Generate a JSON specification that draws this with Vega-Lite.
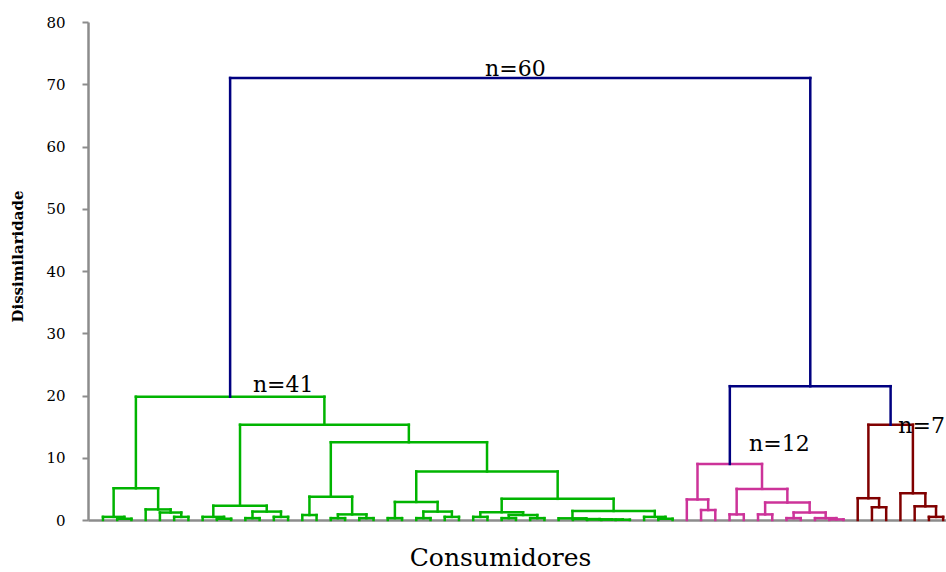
{
  "$schema": "https://vega.github.io/schema/vega-lite/v6.json",
  "autosize": {"type": "none"},
  "width": 858,
  "height": 498,
  "padding": {"left": 88, "top": 22, "right": 0, "bottom": 52},
  "background": "white",
  "config": {
    "view": {"stroke": null},
    "font": "DejaVu Serif",
    "axisX": {
      "labels": false, "ticks": false, "grid": false,
      "domainColor": "#8c8c8c", "domainWidth": 2.5,
      "titleFont": "DejaVu Serif", "titleFontSize": 25, "titleFontWeight": "normal",
      "titleColor": "#000000", "titlePadding": 25, "titleX": 412
    },
    "axisY": {
      "grid": false, "tickSize": 6, "tickColor": "#8c8c8c", "tickWidth": 2,
      "domainColor": "#8c8c8c", "domainWidth": 2.5,
      "labelFont": "DejaVu Serif", "labelFontSize": 15, "labelColor": "#000000",
      "labelPadding": 17,
      "titleFont": "DejaVu Serif", "titleFontSize": 15, "titleFontWeight": "bold",
      "titleColor": "#000000", "titlePadding": 20, "titleY": 234
    }
  },
  "datasets": {
    "fusoes": [
      {"xl": 1, "xr": 2, "hl": 0, "hr": 0, "h": 0.2, "g": "verde"},
      {"xl": 0, "xr": 1.5, "hl": 0, "hr": 0.2, "h": 0.5, "g": "verde"},
      {"xl": 5, "xr": 6, "hl": 0, "hr": 0, "h": 0.5, "g": "verde"},
      {"xl": 4, "xr": 5.5, "hl": 0, "hr": 0.5, "h": 1.2, "g": "verde"},
      {"xl": 3, "xr": 4.75, "hl": 0, "hr": 1.2, "h": 1.7, "g": "verde"},
      {"xl": 0.75, "xr": 3.875, "hl": 0.5, "hr": 1.7, "h": 5.1, "g": "verde"},

      {"xl": 8, "xr": 9, "hl": 0, "hr": 0, "h": 0.2, "g": "verde"},
      {"xl": 7, "xr": 8.5, "hl": 0, "hr": 0.2, "h": 0.5, "g": "verde"},
      {"xl": 10, "xr": 11, "hl": 0, "hr": 0, "h": 0.3, "g": "verde"},
      {"xl": 12, "xr": 13, "hl": 0, "hr": 0, "h": 0.5, "g": "verde"},
      {"xl": 10.5, "xr": 12.5, "hl": 0.3, "hr": 0.5, "h": 1.35, "g": "verde"},
      {"xl": 7.75, "xr": 11.5, "hl": 0.5, "hr": 1.35, "h": 2.3, "g": "verde"},

      {"xl": 14, "xr": 15, "hl": 0, "hr": 0, "h": 0.8, "g": "verde"},
      {"xl": 16, "xr": 17, "hl": 0, "hr": 0, "h": 0.3, "g": "verde"},
      {"xl": 18, "xr": 19, "hl": 0, "hr": 0, "h": 0.3, "g": "verde"},
      {"xl": 16.5, "xr": 18.5, "hl": 0.3, "hr": 0.3, "h": 0.9, "g": "verde"},
      {"xl": 14.5, "xr": 17.5, "hl": 0.8, "hr": 0.9, "h": 3.75, "g": "verde"},

      {"xl": 20, "xr": 21, "hl": 0, "hr": 0, "h": 0.3, "g": "verde"},
      {"xl": 22, "xr": 23, "hl": 0, "hr": 0, "h": 0.3, "g": "verde"},
      {"xl": 24, "xr": 25, "hl": 0, "hr": 0, "h": 0.5, "g": "verde"},
      {"xl": 22.5, "xr": 24.5, "hl": 0.3, "hr": 0.5, "h": 1.35, "g": "verde"},
      {"xl": 20.5, "xr": 23.5, "hl": 0.3, "hr": 1.35, "h": 2.9, "g": "verde"},

      {"xl": 26, "xr": 27, "hl": 0, "hr": 0, "h": 0.5, "g": "verde"},
      {"xl": 28, "xr": 29, "hl": 0, "hr": 0, "h": 0.3, "g": "verde"},
      {"xl": 30, "xr": 31, "hl": 0, "hr": 0, "h": 0.3, "g": "verde"},
      {"xl": 28.5, "xr": 30.5, "hl": 0.3, "hr": 0.3, "h": 0.8, "g": "verde"},
      {"xl": 26.5, "xr": 29.5, "hl": 0.5, "hr": 0.8, "h": 1.25, "g": "verde"},
      {"xl": 36, "xr": 37, "hl": 0, "hr": 0, "h": 0.05, "g": "verde"},
      {"xl": 35, "xr": 36.5, "hl": 0, "hr": 0.05, "h": 0.08, "g": "verde"},
      {"xl": 34, "xr": 35.75, "hl": 0, "hr": 0.08, "h": 0.1, "g": "verde"},
      {"xl": 33, "xr": 34.875, "hl": 0, "hr": 0.1, "h": 0.15, "g": "verde"},
      {"xl": 32, "xr": 33.9375, "hl": 0, "hr": 0.15, "h": 0.27, "g": "verde"},
      {"xl": 39, "xr": 40, "hl": 0, "hr": 0, "h": 0.2, "g": "verde"},
      {"xl": 38, "xr": 39.5, "hl": 0, "hr": 0.2, "h": 0.5, "g": "verde"},
      {"xl": 32.97, "xr": 38.75, "hl": 0.27, "hr": 0.5, "h": 1.45, "g": "verde"},
      {"xl": 28, "xr": 35.86, "hl": 1.25, "hr": 1.45, "h": 3.4, "g": "verde"},

      {"xl": 22, "xr": 31.93, "hl": 2.9, "hr": 3.4, "h": 7.8, "g": "verde"},
      {"xl": 16, "xr": 26.97, "hl": 3.75, "hr": 7.8, "h": 12.5, "g": "verde"},
      {"xl": 9.625, "xr": 21.48, "hl": 2.3, "hr": 12.5, "h": 15.3, "g": "verde"},
      {"xl": 2.3125, "xr": 15.55, "hl": 5.1, "hr": 15.3, "h": 19.8, "g": "verde"},

      {"xl": 42, "xr": 43, "hl": 0, "hr": 0, "h": 1.6, "g": "rosa"},
      {"xl": 41, "xr": 42.5, "hl": 0, "hr": 1.6, "h": 3.3, "g": "rosa"},
      {"xl": 44, "xr": 45, "hl": 0, "hr": 0, "h": 0.9, "g": "rosa"},
      {"xl": 46, "xr": 47, "hl": 0, "hr": 0, "h": 0.9, "g": "rosa"},
      {"xl": 48, "xr": 49, "hl": 0, "hr": 0, "h": 0.3, "g": "rosa"},
      {"xl": 51, "xr": 52, "hl": 0, "hr": 0, "h": 0.1, "g": "rosa"},
      {"xl": 50, "xr": 51.5, "hl": 0, "hr": 0.1, "h": 0.3, "g": "rosa"},
      {"xl": 48.5, "xr": 50.75, "hl": 0.3, "hr": 0.3, "h": 1.2, "g": "rosa"},
      {"xl": 46.5, "xr": 49.625, "hl": 0.9, "hr": 1.2, "h": 2.8, "g": "rosa"},
      {"xl": 44.5, "xr": 48.06, "hl": 0.9, "hr": 2.8, "h": 5.0, "g": "rosa"},
      {"xl": 41.75, "xr": 46.28, "hl": 3.3, "hr": 5.0, "h": 9.0, "g": "rosa"},

      {"xl": 54, "xr": 55, "hl": 0, "hr": 0, "h": 2.05, "g": "marrom"},
      {"xl": 53, "xr": 54.5, "hl": 0, "hr": 2.05, "h": 3.5, "g": "marrom"},
      {"xl": 58, "xr": 59, "hl": 0, "hr": 0, "h": 0.5, "g": "marrom"},
      {"xl": 57, "xr": 58.5, "hl": 0, "hr": 0.5, "h": 2.2, "g": "marrom"},
      {"xl": 56, "xr": 57.75, "hl": 0, "hr": 2.2, "h": 4.3, "g": "marrom"},
      {"xl": 53.75, "xr": 56.875, "hl": 3.5, "hr": 4.3, "h": 15.3, "g": "marrom"},

      {"xl": 44.02, "xr": 55.31, "hl": 9.0, "hr": 15.3, "h": 21.5, "g": "azul"},
      {"xl": 8.93, "xr": 49.67, "hl": 19.8, "hr": 21.5, "h": 71.0, "g": "azul"}
    ],
    "rotulos": [
      {"x": 26.83, "y": 71.35, "t": "n=60"},
      {"x": 10.53, "y": 20.5, "t": "n=41"},
      {"x": 45.37, "y": 11.13, "t": "n=12"},
      {"x": 55.85, "y": 13.93, "t": "n=7"}
    ]
  },
  "layer": [
    {
      "data": {"name": "fusoes"},
      "mark": {"type": "rule", "strokeWidth": 2.5, "strokeCap": "square"},
      "encoding": {
        "x": {
          "field": "xl", "type": "quantitative",
          "scale": {"domain": [-1.05, 59.2], "nice": false, "zero": false},
          "axis": {"title": "Consumidores"}
        },
        "x2": {"field": "xr"},
        "y": {
          "field": "h", "type": "quantitative",
          "scale": {"domain": [0, 80], "nice": false},
          "axis": {"title": "Dissimilaridade", "values": [0, 10, 20, 30, 40, 50, 60, 70, 80]}
        },
        "color": {
          "field": "g", "type": "nominal", "legend": null,
          "scale": {"domain": ["verde", "rosa", "marrom", "azul"], "range": ["#00b400", "#cc3399", "#800000", "#000080"]}
        }
      }
    },
    {
      "data": {"name": "fusoes"},
      "mark": {"type": "rule", "strokeWidth": 2.5, "strokeCap": "square"},
      "encoding": {
        "x": {"field": "xl", "type": "quantitative"},
        "y": {"field": "hl", "type": "quantitative"},
        "y2": {"field": "h"},
        "color": {"field": "g", "type": "nominal"}
      }
    },
    {
      "data": {"name": "fusoes"},
      "mark": {"type": "rule", "strokeWidth": 2.5, "strokeCap": "square"},
      "encoding": {
        "x": {"field": "xr", "type": "quantitative"},
        "y": {"field": "hr", "type": "quantitative"},
        "y2": {"field": "h"},
        "color": {"field": "g", "type": "nominal"}
      }
    },
    {
      "data": {"name": "rotulos"},
      "mark": {"type": "text", "font": "DejaVu Serif", "fontSize": 22, "align": "left", "baseline": "alphabetic", "color": "#000000"},
      "encoding": {
        "x": {"field": "x", "type": "quantitative"},
        "y": {"field": "y", "type": "quantitative"},
        "text": {"field": "t"}
      }
    }
  ]
}
